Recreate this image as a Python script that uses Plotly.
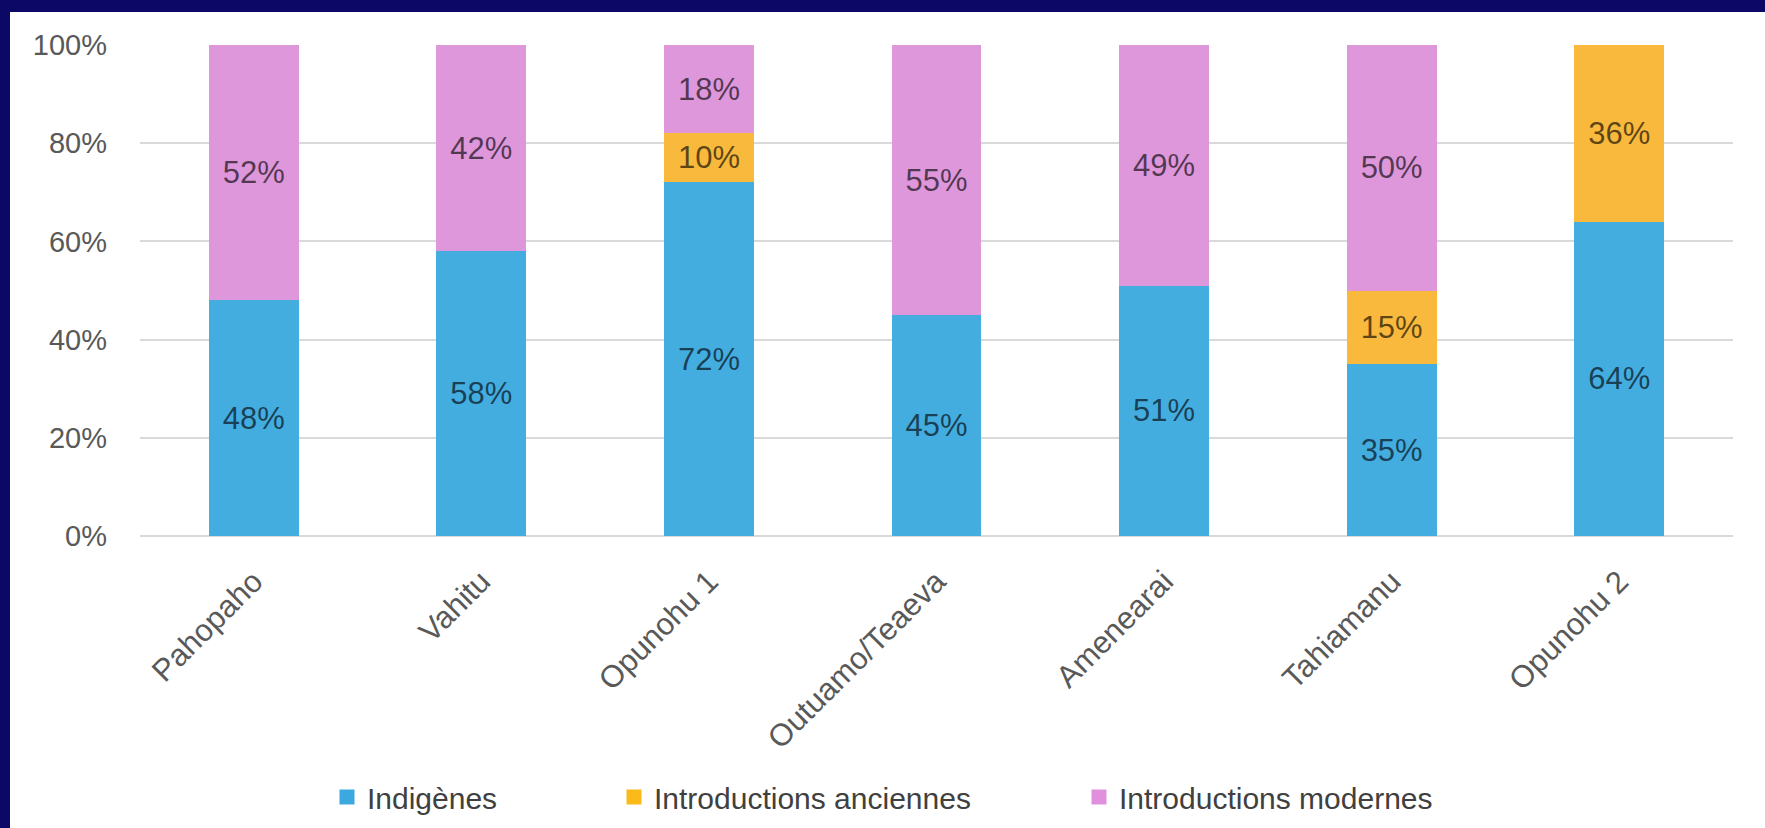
import plotly.graph_objects as go

categories = ["Pahopaho", "Vahitu", "Opunohu 1", "Outuamo/Teaeva", "Amenearai", "Tahiamanu", "Opunohu 2"]
indigenes = [48, 58, 72, 45, 51, 35, 64]
anciennes = [0, 0, 10, 0, 0, 15, 36]
modernes = [52, 42, 18, 55, 49, 50, 0]
series_names = ["Indigènes", "Introductions anciennes", "Introductions modernes"]
colors = ["#44ADE0", "#F8B93C", "#DE97DB"]
legend_colors = ["#3BA8DF", "#FBBA1A", "#E090DC"]
ytick_vals = [0, 20, 40, 60, 80, 100]
ytick_text = ["0%", "20%", "40%", "60%", "80%", "100%"]

W, H = 1765, 828
L, R, T, B = 140, 32, 45, 292
pw, ph = W - L - R, H - T - B

def px_x(x):
    return (x - L) / pw

def px_y(y):
    return (H - B - y) / ph

fig = go.Figure()
legends = ["legend", "legend2", "legend3"]
for name, vals, col, lcol, lg in zip(series_names, [indigenes, anciennes, modernes], colors, legend_colors, legends):
    fig.add_trace(go.Bar(
        x=categories, y=vals, name=name, marker_color=col, marker_line_width=0,
        text=[f"{v}%" if v > 0 else "" for v in vals],
        textposition="inside", insidetextanchor="middle", textangle=0,
        textfont=dict(size=31, color="rgba(0,0,0,0.64)", family="Liberation Sans, Arial"),
        showlegend=False,
    ))
    fig.add_trace(go.Scatter(
        x=[None], y=[None], mode="markers", name=name,
        marker=dict(symbol="square", size=15, color=lcol),
        legend=lg, showlegend=True, hoverinfo="skip",
    ))

legend_x = [347, 634, 1099]
common_leg = dict(orientation="h", yanchor="middle", xanchor="left", y=px_y(797),
                  font=dict(size=30, color="#404040", family="Liberation Sans, Arial"),
                  bgcolor="rgba(0,0,0,0)", itemwidth=30)
fig.update_layout(
    showlegend=True,
    legend=dict(x=px_x(legend_x[0] - 20), **common_leg),
    legend2=dict(x=px_x(legend_x[1] - 20), **common_leg),
    legend3=dict(x=px_x(legend_x[2] - 20), **common_leg),
)

fig.update_layout(
    barmode="stack", bargap=0.605,
    width=W, height=H,
    margin=dict(l=L, r=R, t=T, b=B, autoexpand=False),
    paper_bgcolor="white", plot_bgcolor="white",
    font=dict(family="Liberation Sans, Arial", color="#595959"),
    shapes=[
        dict(type="rect", xref="paper", yref="paper", x0=px_x(-5), x1=px_x(W + 5), y0=px_y(12), y1=px_y(-5),
             fillcolor="#0C0866", line_width=0, layer="above"),
        dict(type="rect", xref="paper", yref="paper", x0=px_x(-5), x1=px_x(10), y0=px_y(H + 5), y1=px_y(-5),
             fillcolor="#0C0866", line_width=0, layer="above"),
    ],
)
fig.update_yaxes(range=[0, 100], tickvals=ytick_vals, ticktext=ytick_text,
                 showgrid=True, gridcolor="#D9D9D9", gridwidth=1.5,
                 zeroline=True, zerolinecolor="#D9D9D9", zerolinewidth=1.5,
                 ticks="", ticklabelstandoff=32,
                 tickfont=dict(size=29, color="#595959"))
fig.update_xaxes(tickangle=-45, ticks="", showline=False, ticklabelstandoff=20,
                 tickfont=dict(size=31, color="#595959"))

fig.write_html("out.html", config={"displayModeBar": False},
               post_script="document.body.style.margin='0';document.body.style.overflow='hidden';")
